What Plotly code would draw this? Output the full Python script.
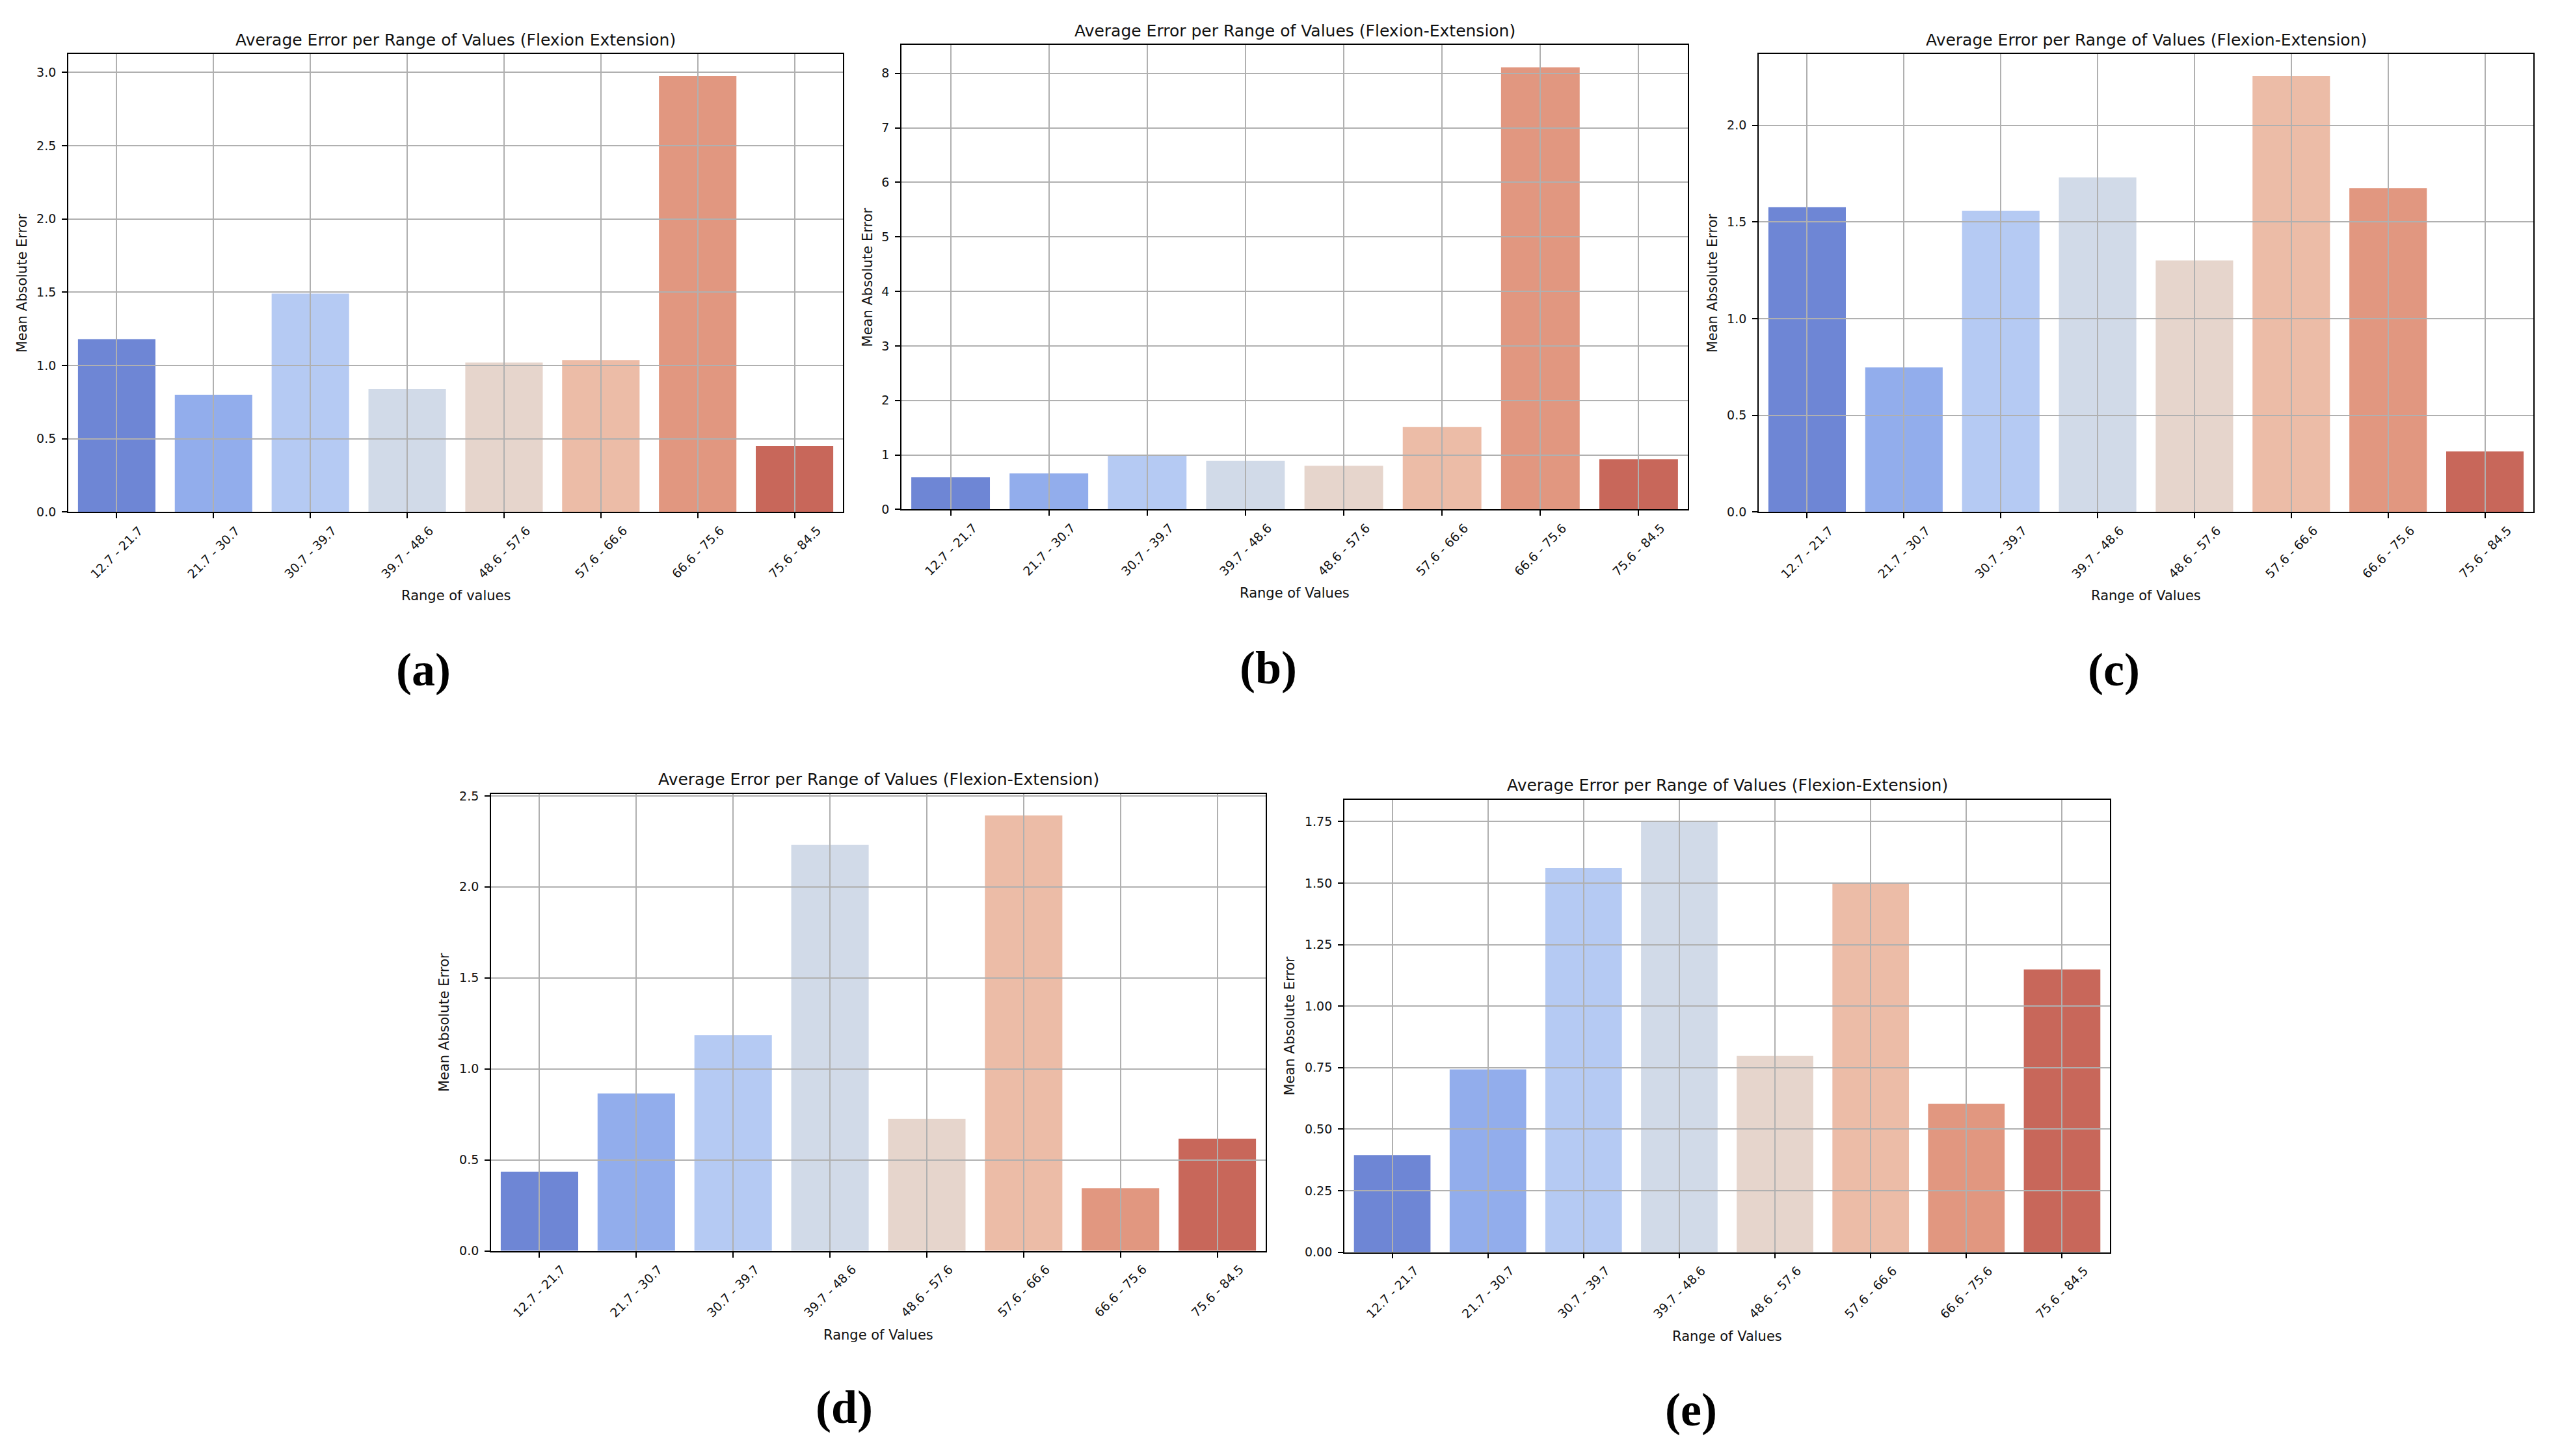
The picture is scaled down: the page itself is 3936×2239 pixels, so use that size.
import plotly.graph_objects as go

W, H = 3936, 2239

categories = ["12.7 - 21.7", "21.7 - 30.7", "30.7 - 39.7", "39.7 - 48.6",
              "48.6 - 57.6", "57.6 - 66.6", "66.6 - 75.6", "75.6 - 84.5"]

values_a = [1.18, 0.80, 1.49, 0.84, 1.02, 1.035, 2.975, 0.45]
values_b = [0.59, 0.66, 1.00, 0.89, 0.80, 1.51, 8.11, 0.92]
values_c = [1.577, 0.748, 1.558, 1.731, 1.301, 2.255, 1.675, 0.313]
values_d = [0.435, 0.865, 1.185, 2.232, 0.725, 2.392, 0.344, 0.617]
values_e = [0.395, 0.743, 1.561, 1.752, 0.798, 1.501, 0.603, 1.149]

titles = ["Average Error per Range of Values (Flexion Extension)",
          "Average Error per Range of Values (Flexion-Extension)",
          "Average Error per Range of Values (Flexion-Extension)",
          "Average Error per Range of Values (Flexion-Extension)",
          "Average Error per Range of Values (Flexion-Extension)"]
xlabels = ["Range of values", "Range of Values", "Range of Values",
           "Range of Values", "Range of Values"]
ylabel = "Mean Absolute Error"
panel_labels = ["(a)", "(b)", "(c)", "(d)", "(e)"]

# seaborn coolwarm(8) with saturation 0.75
colors = ["#6E86D5", "#92ADEC", "#B5CAF3", "#D1DAE8",
          "#E6D5CC", "#ECBCA7", "#E19780", "#C8675A"]

series = [values_a, values_b, values_c, values_d, values_e]

# layout (pixel boxes of the axes: left, right, top, bottom)
boxes = [(105, 1296, 76, 786), (1386, 2595, 62, 782), (2704, 3895, 76, 786),
         (755, 1946, 1223, 1932), (2067, 3244, 1232, 1934)]
dticks = [0.5, 1, 0.5, 0.5, 0.25]
tickfmts = [".1f", "d", ".1f", ".1f", ".2f"]
ylabel_shift = [71, 52, 71, 72, 84]
label_pos = [(651, 1031), (1950, 1028), (3250, 1031), (1298, 2174), (2600, 2178)]

FONT = "DejaVu Sans"
fig = go.Figure()
layout = dict(width=W, height=H, margin=dict(l=0, r=0, t=0, b=0),
              paper_bgcolor="white", plot_bgcolor="rgba(0,0,0,0)", showlegend=False,
              bargap=0.2)
annotations = []
n = len(series)
for i, vals in enumerate(series):
    k = i + 1          # bar axes
    g = i + 1 + n      # grid/frame axes drawn on top of the bars
    l, r, t, b = boxes[i]
    xd = [l / W, r / W]
    yd = [1 - b / H, 1 - t / H]
    ymax = max(vals) * 1.05
    fig.add_trace(go.Bar(x=categories, y=vals, marker=dict(color=colors, line=dict(width=0)),
                         width=0.8, xaxis=f"x{k}", yaxis=f"y{k}", hoverinfo="skip"))
    fig.add_trace(go.Scatter(x=categories, y=vals, mode="markers", marker=dict(opacity=0),
                             xaxis=f"x{g}", yaxis=f"y{g}", hoverinfo="skip"))
    common_x = dict(domain=xd, type="category", categoryorder="array",
                    categoryarray=categories, range=[-0.5, 7.5], fixedrange=True)
    common_y = dict(domain=yd, range=[0, ymax], fixedrange=True)
    layout[f"xaxis{k}"] = dict(**common_x, anchor=f"y{k}", showgrid=False,
                               showticklabels=False, showline=False, ticks="", zeroline=False)
    layout[f"yaxis{k}"] = dict(**common_y, anchor=f"x{k}", showgrid=False,
                               showticklabels=False, showline=False, ticks="", zeroline=False)
    layout[f"xaxis{g}"] = dict(**common_x, anchor=f"y{g}", showgrid=True,
                               gridcolor="#b0b0b0", gridwidth=1.6,
                               showticklabels=False, showline=True, mirror=True,
                               linecolor="black", linewidth=1.8,
                               ticks="outside", ticklen=8, tickwidth=1.7, tickcolor="black",
                               zeroline=False)
    layout[f"yaxis{g}"] = dict(**common_y, anchor=f"x{g}", showgrid=True,
                               gridcolor="#b0b0b0", gridwidth=1.6,
                               showline=True, mirror=True, linecolor="black", linewidth=1.8,
                               ticks="outside", ticklen=8, tickwidth=1.7, tickcolor="black",
                               dtick=dticks[i], tick0=0, tickformat=tickfmts[i],
                               ticklabelstandoff=5,
                               tickfont=dict(family=FONT, size=19, color="#111111"),
                               zeroline=False)
    # rotated category labels centred on ticks
    for c in categories:
        annotations.append(dict(x=c, y=0, xref=f"x{g}", yref=f"y{g} domain",
                                text=c, showarrow=False, textangle=-45,
                                xanchor="center", yanchor="top", yshift=-14,
                                font=dict(family=FONT, size=19, color="#111111")))
    annotations.append(dict(x=0.5, y=1, xref=f"x{g} domain", yref=f"y{g} domain",
                            text=titles[i], showarrow=False, xanchor="center",
                            yanchor="middle", yshift=22,
                            font=dict(family=FONT, size=25, color="#111111")))
    annotations.append(dict(x=0.5, y=0, xref=f"x{g} domain", yref=f"y{g} domain",
                            text=xlabels[i], showarrow=False, xanchor="center",
                            yanchor="middle", yshift=-129,
                            font=dict(family=FONT, size=21, color="#111111")))
    annotations.append(dict(x=0, y=0.5, xref=f"x{g} domain", yref=f"y{g} domain",
                            text=ylabel, showarrow=False, textangle=-90,
                            xanchor="center", yanchor="middle", xshift=-ylabel_shift[i],
                            font=dict(family=FONT, size=21, color="#111111")))
    px, py = label_pos[i]
    annotations.append(dict(x=px / W, y=1 - py / H, xref="paper", yref="paper",
                            text=f"<b>{panel_labels[i]}</b>", showarrow=False,
                            xanchor="center", yanchor="middle",
                            font=dict(family="Liberation Serif", size=72, color="black")))

layout["annotations"] = annotations
fig.update_layout(**layout)
fig.write_html("out.html", config={"displayModeBar": False},
               post_script="document.body.style.margin='0px';")
